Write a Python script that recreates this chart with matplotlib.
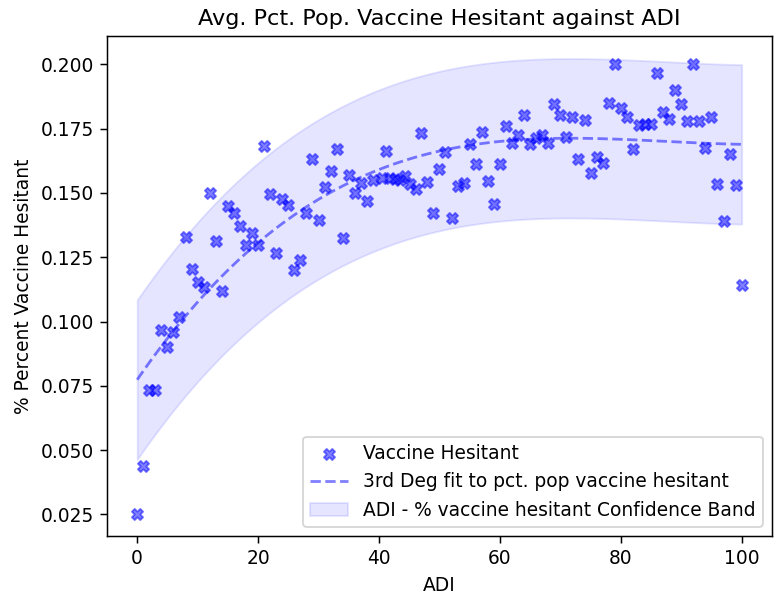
import matplotlib
matplotlib.use("Agg")
import matplotlib.pyplot as plt
import numpy as np

# ADI percentile and average share of population that is vaccine hesitant
adi = [0, 1, 2, 3, 4, 5, 6, 7, 8, 9, 10, 11, 12, 13, 14, 15, 16, 17, 18, 19,
       20, 21, 22, 23, 24, 25, 26, 27, 28, 29, 30, 31, 32, 33, 34, 35, 36, 37, 38, 39,
       40.5, 41.1, 41.8, 42.7, 43.5, 44.3, 45.1, 46.2,
       47, 48, 49, 50, 51, 52, 53, 54, 55, 56, 57, 58, 59, 60, 61, 62, 63, 64,
       65, 66, 67, 68, 69, 70, 71, 72, 73, 74, 75, 76, 77, 78, 79, 80, 81, 82,
       83, 84, 85, 86, 87, 88, 89, 90, 91, 92, 93, 94, 95, 96, 97, 98, 99, 100]
pct_hesitant = [0.0253, 0.0438, 0.0732, 0.0732, 0.0966, 0.0899, 0.0959, 0.1017, 0.1330, 0.1206,
                0.1154, 0.1134, 0.1500, 0.1312, 0.1117, 0.1449, 0.1422, 0.1371, 0.1296, 0.1343,
                0.1296, 0.1684, 0.1497, 0.1268, 0.1478, 0.1452, 0.1202, 0.1238, 0.1420, 0.1633,
                0.1393, 0.1522, 0.1584, 0.1670, 0.1323, 0.1568, 0.1500, 0.1537, 0.1467, 0.1552,
                0.1556, 0.1663, 0.1556, 0.1553, 0.1552, 0.1565, 0.1536, 0.1517,
                0.1731, 0.1542, 0.1422, 0.1591, 0.1659, 0.1404, 0.1526, 0.1538, 0.1692, 0.1614,
                0.1737, 0.1545, 0.1455, 0.1611, 0.1759, 0.1694, 0.1727, 0.1802, 0.1692, 0.1713,
                0.1724, 0.1694, 0.1847, 0.1802, 0.1717, 0.1795, 0.1631, 0.1785, 0.1577, 0.1640,
                0.1616, 0.1850, 0.2000, 0.1832, 0.1795, 0.1670, 0.1763, 0.1769, 0.1767, 0.1966,
                0.1815, 0.1789, 0.1899, 0.1847, 0.1778, 0.2000, 0.1778, 0.1675, 0.1795, 0.1536,
                0.1390, 0.1653, 0.1532, 0.1143]
band_halfwidth = 0.031

x = np.array(adi)
y = np.array(pct_hesitant)

coefs = np.polyfit(x, y, 3)
fit = np.polyval(coefs, x)

dpi = 134
fig, ax = plt.subplots(figsize=(775 / dpi, 596 / dpi), dpi=dpi)
ax.scatter(x, y, marker='X', s=36, color='blue', alpha=0.5,
           label='Vaccine Hesitant', zorder=3)
ax.plot(x, fit, '--', color='blue', alpha=0.5, label='3rd Deg fit to pct. pop vaccine hesitant')
ax.fill_between(x, fit - band_halfwidth, fit + band_halfwidth, color='blue', alpha=0.1,
                label='ADI - % vaccine hesitant Confidence Band')

ax.set_title('Avg. Pct. Pop. Vaccine Hesitant against ADI')
ax.set_xlabel('ADI')
ax.set_ylabel('% Percent Vaccine Hesitant')
ax.legend(loc='lower right')

plt.subplots_adjust(left=0.138, right=0.996, bottom=0.1, top=0.94)
plt.savefig('out.png', dpi=dpi)
